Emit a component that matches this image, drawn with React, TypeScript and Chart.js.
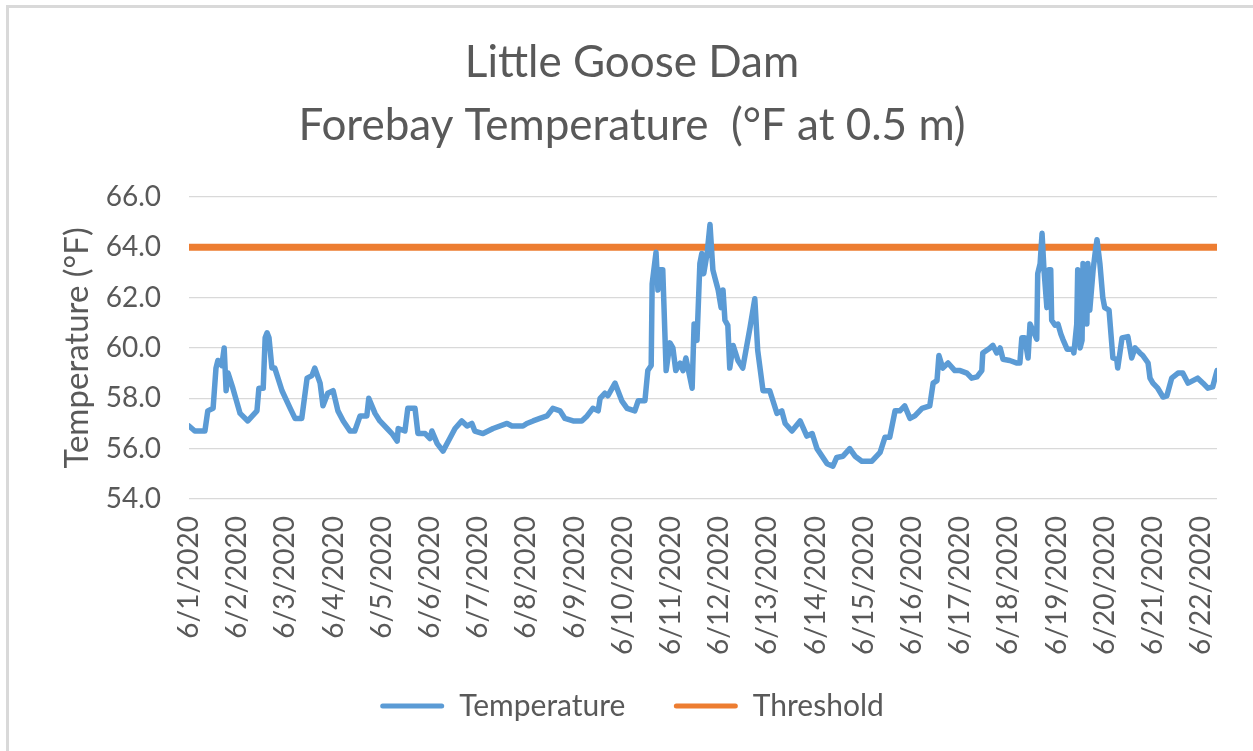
import React, { useEffect, useRef } from "react";
import { Chart, registerables } from "chart.js";

Chart.register(...registerables);

// Days since 6/1/2020 00:00
const DAYS = [
  0.0, 0.12, 0.33, 0.39, 0.5, 0.56, 0.6, 0.68, 0.73, 0.77, 0.81, 0.91, 1.06, 1.22, 1.41, 1.45, 1.54, 1.58, 1.62, 1.66,
  1.72, 1.78, 1.93, 2.1, 2.2, 2.34, 2.45, 2.55, 2.61, 2.72, 2.78, 2.88, 2.99, 3.09, 3.2, 3.34, 3.44, 3.55, 3.69, 3.73,
  3.86, 3.96, 4.11, 4.21, 4.32, 4.34, 4.48, 4.54, 4.65, 4.69, 4.75, 4.9, 5.0, 5.04, 5.15, 5.27, 5.41, 5.52, 5.66, 5.77,
  5.87, 5.93, 6.1, 6.31, 6.6, 6.7, 6.93, 7.01, 7.14, 7.28, 7.43, 7.55, 7.7, 7.8, 7.97, 8.15, 8.26, 8.38, 8.49, 8.53,
  8.63, 8.69, 8.84, 8.98, 9.09, 9.25, 9.32, 9.46, 9.52, 9.59, 9.61, 9.69, 9.73, 9.77, 9.83, 9.9, 9.98, 10.04, 10.1, 10.19,
  10.25, 10.31, 10.44, 10.48, 10.54, 10.6, 10.64, 10.68, 10.75, 10.81, 10.87, 10.91, 10.98, 11.04, 11.08, 11.12, 11.18, 11.22, 11.29, 11.39,
  11.49, 11.64, 11.74, 11.8, 11.91, 12.05, 12.2, 12.3, 12.37, 12.51, 12.68, 12.82, 12.93, 13.03, 13.24, 13.36, 13.44, 13.57, 13.71, 13.82,
  13.96, 14.17, 14.34, 14.44, 14.54, 14.65, 14.75, 14.85, 14.96, 15.06, 15.21, 15.37, 15.44, 15.52, 15.56, 15.64, 15.75, 15.89, 16.0, 16.14,
  16.24, 16.35, 16.45, 16.47, 16.62, 16.68, 16.76, 16.83, 16.89, 17.03, 17.18, 17.24, 17.28, 17.34, 17.41, 17.45, 17.51, 17.59, 17.61, 17.66,
  17.7, 17.74, 17.8, 17.84, 17.88, 17.9, 17.97, 18.03, 18.09, 18.13, 18.22, 18.34, 18.36, 18.42, 18.44, 18.49, 18.53, 18.55, 18.63, 18.65,
  18.69, 18.76, 18.8, 18.84, 18.9, 18.96, 19.0, 19.09, 19.17, 19.25, 19.27, 19.36, 19.48, 19.56, 19.63, 19.73, 19.79, 19.9, 19.94, 20.0,
  20.1, 20.21, 20.29, 20.39, 20.52, 20.62, 20.73, 20.83, 20.93, 21.04, 21.14, 21.24, 21.33,
];

// Forebay temperature, °F
const TEMPS = [
  56.9, 56.7, 56.7, 57.5, 57.6, 59.2, 59.5, 59.3, 60.0, 58.3, 59.0, 58.4, 57.4, 57.1, 57.5, 58.4, 58.4, 60.4, 60.6, 60.4,
  59.2, 59.2, 58.3, 57.6, 57.2, 57.2, 58.8, 58.9, 59.2, 58.6, 57.7, 58.2, 58.3, 57.5, 57.1, 56.7, 56.7, 57.3, 57.3, 58.0,
  57.4, 57.1, 56.8, 56.6, 56.3, 56.8, 56.7, 57.6, 57.6, 57.6, 56.6, 56.6, 56.4, 56.7, 56.2, 55.9, 56.4, 56.8, 57.1, 56.9,
  57.0, 56.7, 56.6, 56.8, 57.0, 56.9, 56.9, 57.0, 57.1, 57.2, 57.3, 57.6, 57.5, 57.2, 57.1, 57.1, 57.3, 57.6, 57.5, 58.0,
  58.2, 58.1, 58.6, 57.9, 57.6, 57.5, 57.9, 57.9, 59.1, 59.3, 62.55, 63.8, 62.3, 63.1, 63.1, 59.1, 60.2, 60.0, 59.1, 59.4,
  59.1, 59.6, 58.4, 60.95, 60.3, 63.35, 63.75, 62.95, 63.75, 64.9, 63.1, 62.8, 62.3, 61.6, 62.3, 61.1, 60.9, 59.2, 60.1, 59.5,
  59.2, 60.8, 61.95, 59.9, 58.3, 58.3, 57.4, 57.5, 57.0, 56.7, 57.1, 56.5, 56.6, 56.0, 55.4, 55.3, 55.65, 55.7, 56.0, 55.7,
  55.5, 55.5, 55.85, 56.45, 56.45, 57.5, 57.5, 57.7, 57.2, 57.3, 57.6, 57.7, 58.6, 58.7, 59.7, 59.2, 59.4, 59.1, 59.1, 59.0,
  58.8, 58.85, 59.1, 59.8, 60.0, 60.1, 59.8, 60.0, 59.55, 59.5, 59.4, 59.4, 60.4, 60.4, 59.6, 60.95, 60.7, 60.35, 62.95, 63.35,
  64.55, 63.1, 61.6, 63.1, 63.1, 61.1, 60.9, 60.95, 60.55, 60.35, 59.95, 59.95, 59.8, 60.95, 63.1, 60.0, 60.3, 63.35, 60.95, 63.35,
  61.5, 63.1, 63.75, 64.3, 63.35, 62.0, 61.6, 61.5, 59.6, 59.55, 59.2, 60.4, 60.45, 59.6, 60.0, 59.8, 59.7, 59.4, 58.8, 58.6,
  58.4, 58.05, 58.1, 58.8, 59.0, 59.0, 58.6, 58.7, 58.8, 58.6, 58.4, 58.45, 59.1,
];

const THRESHOLD_DAYS = [0, 21.33];
const THRESHOLD_VALUES = [64, 64];

const DATE_TICKS = [
  "6/1/2020", "6/2/2020", "6/3/2020", "6/4/2020", "6/5/2020", "6/6/2020", "6/7/2020", "6/8/2020",
  "6/9/2020", "6/10/2020", "6/11/2020", "6/12/2020", "6/13/2020", "6/14/2020", "6/15/2020", "6/16/2020",
  "6/17/2020", "6/18/2020", "6/19/2020", "6/20/2020", "6/21/2020", "6/22/2020",
];

const TITLE_LINES = ["Little Goose Dam", "Forebay Temperature  (°F at 0.5 m)"];

const FONT = "Lato, 'Noto Sans', sans-serif";
const TEXT = "#595959";

export default function App() {
  const ref = useRef<HTMLCanvasElement | null>(null);

  useEffect(() => {
    if (!ref.current) return;
    const chart = new Chart(ref.current, {
      type: "line",
      data: {
        datasets: [
          {
            label: "Temperature",
            data: DAYS.map((d, i) => ({ x: d, y: TEMPS[i] })),
            borderColor: "#5b9bd5",
            backgroundColor: "#5b9bd5",
            borderWidth: 5.5,
            pointRadius: 0,
            borderJoinStyle: "round",
            borderCapStyle: "round",
            tension: 0,
          },
          {
            label: "Threshold",
            data: THRESHOLD_DAYS.map((d, i) => ({ x: d, y: THRESHOLD_VALUES[i] })),
            borderColor: "#ed7d31",
            backgroundColor: "#ed7d31",
            borderWidth: 7,
            pointRadius: 0,
          },
        ],
      },
      options: {
        animation: false,
        responsive: false,
        maintainAspectRatio: false,
        layout: { padding: { left: 47, right: 36, top: 0, bottom: 20 } },
        plugins: {
          title: {
            display: true,
            text: TITLE_LINES,
            color: TEXT,
            font: { family: FONT, size: 44, weight: "normal", lineHeight: 1.43 },
            padding: { top: 31, bottom: 40 },
          },
          legend: {
            position: "bottom",
            labels: {
              color: TEXT,
              font: { family: FONT, size: 30 },
              boxWidth: 64,
              boxHeight: 5,
              padding: 10,
              useBorderRadius: true,
              borderRadius: 2.5,
              generateLabels: (c: any) =>
                Chart.defaults.plugins.legend.labels
                  .generateLabels(c)
                  .map((l: any, i: number) => ({
                    ...l,
                    lineWidth: 0,
                    text: i === 0 ? l.text + "     " : l.text,
                  })),
            },
          },
          tooltip: { enabled: false },
        },
        scales: {
          x: {
            type: "linear",
            min: 0,
            max: 21.33,
            bounds: "data",
            grid: { display: false, drawTicks: false },
            border: { display: false },
            ticks: {
              stepSize: 1,
              includeBounds: false,
              autoSkip: false,
              minRotation: 90,
              maxRotation: 90,
              padding: 17,
              color: TEXT,
              font: { family: FONT, size: 28 },
              callback: (v: any) => DATE_TICKS[Math.round(Number(v))] ?? "",
            },
            afterFit: (s: any) => {
              s.height = 182;
            },
          },
          y: {
            min: 54,
            max: 66,
            grid: { color: "#d9d9d9", lineWidth: 1.3, drawTicks: false },
            border: { display: false },
            ticks: {
              stepSize: 2,
              padding: 28,
              color: TEXT,
              font: { family: FONT, size: 28 },
              callback: (v: any) => Number(v).toFixed(1),
            },
            title: {
              display: true,
              text: "Temperature (°F)",
              color: TEXT,
              font: { family: FONT, size: 33 },
              padding: { top: 11, bottom: 4 },
            },
            afterFit: (s: any) => {
              s.width = 142;
            },
          },
        },
      },
    });
    return () => chart.destroy();
  }, []);

  return (
    <div
      style={{
        position: "fixed",
        left: 0,
        top: 0,
        width: 1253,
        height: 751,
        background: "#ffffff",
        overflow: "hidden",
      }}
    >
      <div
        style={{
          position: "absolute",
          left: 6,
          top: 5,
          right: 0,
          bottom: 0,
          borderTop: "3px solid #d9d9d9",
          borderLeft: "3px solid #d9d9d9",
        }}
      />
      <canvas ref={ref} width={1253} height={751} style={{ position: "absolute", left: 0, top: 0 }} />
    </div>
  );
}
